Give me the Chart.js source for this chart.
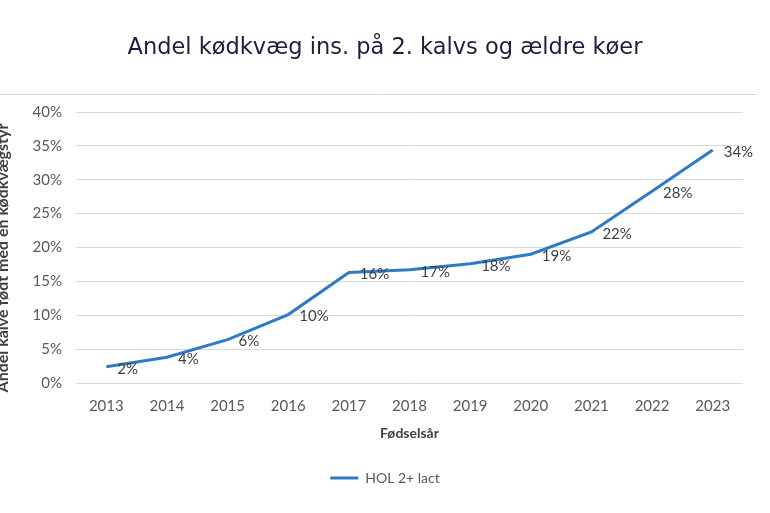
<!DOCTYPE html>
<html lang="da">
<head>
    <meta charset="UTF-8">
    <title>Andel kødkvæg ins. på 2. kalvs og ældre køer</title>
    <script src="https://cdn.jsdelivr.net/npm/chart.js@4.4.1/dist/chart.umd.min.js"></script>
    <style>
        body {
            margin: 0;
            padding: 0;
            background: #ffffff;
        }
        #wrap {
            width: 770px;
            height: 513px;
        }
    </style>
</head>
<body>

<div id="wrap">
    <canvas id="chart" width="770" height="513"></canvas>
</div>

<script>
    // Data
    const years = ['2013', '2014', '2015', '2016', '2017', '2018', '2019', '2020', '2021', '2022', '2023'];
    const hol2Lact = [2.4, 3.8, 6.4, 10.1, 16.3, 16.7, 17.6, 19.0, 22.3, 28.3, 34.4];
    const seriesName = 'HOL 2+ lact';
    const yTitle = 'Andel kalve født med en kødkvægstyr';

    const grey = '#595959';
    const dark = '#404040';

    // thin separator line above the plot
    const topRule = {
        id: 'topRule',
        beforeDraw(chart) {
            const ctx = chart.ctx;
            ctx.save();
            ctx.strokeStyle = '#d9d9d9';
            ctx.lineWidth = 1;
            ctx.beginPath();
            ctx.moveTo(0, 94.5);
            ctx.lineTo(757, 94.5);
            ctx.stroke();
            ctx.restore();
        }
    };

    // y axis title, partly cut off at the left edge like the source
    const leftTitle = {
        id: 'leftTitle',
        afterDraw(chart) {
            const ctx = chart.ctx;
            ctx.save();
            ctx.translate(8, 258);
            ctx.rotate(-Math.PI / 2);
            ctx.font = 'bold 16px Lato';
            ctx.fillStyle = dark;
            ctx.textAlign = 'center';
            ctx.textBaseline = 'alphabetic';
            ctx.fillText(yTitle, 0, 0);
            ctx.restore();
        }
    };

    // value labels to the right of each point
    const pointLabels = {
        id: 'pointLabels',
        afterDatasetsDraw(chart) {
            const ctx = chart.ctx;
            const meta = chart.getDatasetMeta(0);
            ctx.save();
            ctx.font = '15px Lato';
            ctx.fillStyle = dark;
            ctx.textAlign = 'left';
            ctx.textBaseline = 'middle';
            meta.data.forEach((pt, i) => {
                ctx.fillText(Math.round(hol2Lact[i]) + '%', pt.x + 11, pt.y + 2);
            });
            ctx.restore();
        }
    };

    const ctx = document.getElementById('chart').getContext('2d');
    const chart = new Chart(ctx, {
        type: 'line',
        data: {
            labels: years,
            datasets: [{
                label: seriesName,
                data: hol2Lact,
                borderColor: '#2C7BC4',
                backgroundColor: '#2C7BC4',
                borderWidth: 3,
                pointRadius: 0,
                tension: 0
            }]
        },
        options: {
            responsive: false,
            animation: false,
            layout: {
                padding: { left: 27, right: 27, top: 0, bottom: 18 }
            },
            plugins: {
                title: {
                    display: true,
                    text: 'Andel kødkvæg ins. på 2. kalvs og ældre køer',
                    color: '#1e1e3c',
                    font: { family: 'DejaVu Sans', size: 22.5, weight: 'normal' },
                    padding: { top: 35, bottom: 50 }
                },
                legend: {
                    position: 'bottom',
                    labels: {
                        color: grey,
                        font: { family: 'Lato', size: 14 },
                        usePointStyle: true,
                        pointStyle: 'line',
                        pointStyleWidth: 28,
                        padding: 10
                    }
                },
                tooltip: { enabled: false }
            },
            scales: {
                x: {
                    offset: true,
                    grid: { display: false, drawTicks: false },
                    border: { display: false },
                    ticks: {
                        color: grey,
                        font: { family: 'Lato', size: 15 },
                        padding: 14,
                        maxRotation: 0
                    },
                    title: {
                        display: true,
                        text: 'Fødselsår',
                        color: dark,
                        font: { family: 'Lato', size: 14, weight: 'bold' },
                        padding: { top: 4, bottom: 19 }
                    },
                    afterFit(scale) { scale.height = 78; }
                },
                y: {
                    min: 0,
                    max: 40,
                    grid: { color: '#d9d9d9', drawTicks: false },
                    border: { display: false },
                    ticks: {
                        stepSize: 5,
                        color: grey,
                        font: { family: 'Lato', size: 15 },
                        padding: 14,
                        callback: v => v + '%'
                    },
                    afterFit(scale) { scale.width = 49; }
                }
            }
        },
        plugins: [topRule, leftTitle, pointLabels]
    });
</script>

</body>
</html>
